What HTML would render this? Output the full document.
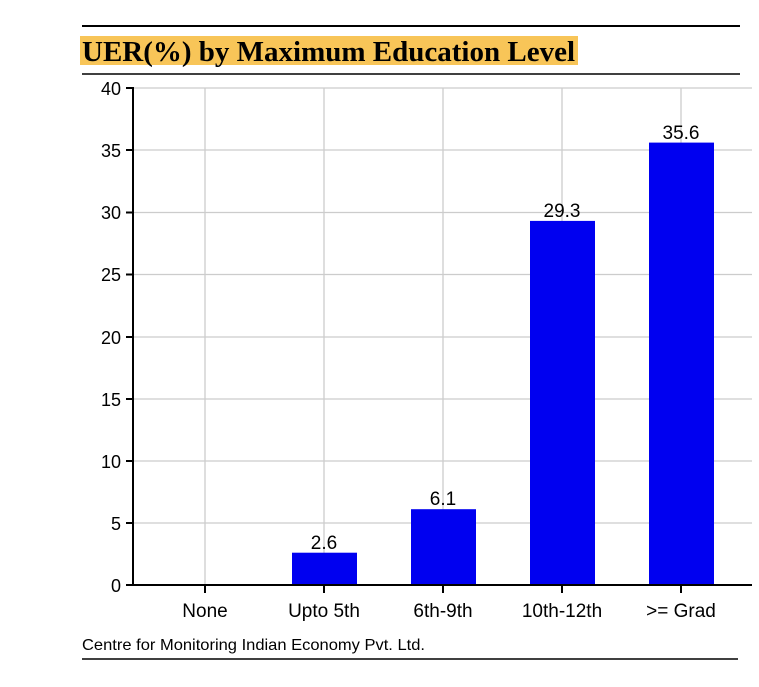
<!DOCTYPE html>
<html><head><style>body{margin:0;background:#fff}svg{display:block}</style></head><body>
<svg width="759" height="687" xmlns="http://www.w3.org/2000/svg" font-family="Liberation Sans, DejaVu Sans, sans-serif">
<line x1="82" y1="26" x2="740" y2="26" stroke="#000" stroke-width="2"/>
<rect x="80" y="36" width="498" height="29" fill="#f8c558"/>
<text x="82" y="61" font-family="Liberation Serif, serif" font-weight="bold" font-size="28" fill="#000" textLength="493" lengthAdjust="spacingAndGlyphs">UER(%) by Maximum Education Level</text>
<line x1="82" y1="74" x2="740" y2="74" stroke="#000" stroke-width="1.5"/>
<g stroke="#ccc" stroke-width="1.3">
<line x1="133" y1="88" x2="752" y2="88"/><line x1="133" y1="150" x2="752" y2="150"/><line x1="133" y1="212.5" x2="752" y2="212.5"/><line x1="133" y1="274.5" x2="752" y2="274.5"/><line x1="133" y1="337" x2="752" y2="337"/><line x1="133" y1="399" x2="752" y2="399"/><line x1="133" y1="461" x2="752" y2="461"/><line x1="133" y1="523" x2="752" y2="523"/>
<line x1="205" y1="88" x2="205" y2="585"/><line x1="324" y1="88" x2="324" y2="585"/><line x1="443" y1="88" x2="443" y2="585"/><line x1="562" y1="88" x2="562" y2="585"/><line x1="681" y1="88" x2="681" y2="585"/>
</g>
<g fill="#0000f0">
<rect x="292" y="552.7" width="65" height="32.3"/>
<rect x="411" y="509.2" width="65" height="75.8"/>
<rect x="530" y="220.9" width="65" height="364.1"/>
<rect x="649" y="142.6" width="65" height="442.4"/>
</g>
<g stroke="#000" stroke-width="2">
<line x1="133" y1="87" x2="133" y2="586"/><line x1="133" y1="585" x2="752" y2="585"/>
<line x1="126" y1="88" x2="133" y2="88"/><line x1="126" y1="150" x2="133" y2="150"/><line x1="126" y1="212.5" x2="133" y2="212.5"/><line x1="126" y1="274.5" x2="133" y2="274.5"/><line x1="126" y1="337" x2="133" y2="337"/><line x1="126" y1="399" x2="133" y2="399"/><line x1="126" y1="461" x2="133" y2="461"/><line x1="126" y1="523" x2="133" y2="523"/><line x1="126" y1="585" x2="133" y2="585"/>
<line x1="205" y1="585" x2="205" y2="593"/><line x1="324" y1="585" x2="324" y2="593"/><line x1="443" y1="585" x2="443" y2="593"/><line x1="562" y1="585" x2="562" y2="593"/><line x1="681" y1="585" x2="681" y2="593"/>
</g>
<g font-size="18" text-anchor="end" fill="#000">
<text x="121" y="95">40</text><text x="121" y="157">35</text><text x="121" y="219">30</text><text x="121" y="281">25</text><text x="121" y="344">20</text><text x="121" y="406">15</text><text x="121" y="468">10</text><text x="121" y="530">5</text><text x="121" y="592">0</text>
</g>
<g font-size="19" text-anchor="middle" fill="#000">
<text x="205" y="617">None</text><text x="324" y="617">Upto 5th</text><text x="443" y="617">6th-9th</text><text x="562" y="617">10th-12th</text><text x="681" y="617">&gt;= Grad</text>
<text x="324" y="549">2.6</text><text x="443" y="505">6.1</text><text x="562" y="217">29.3</text><text x="681" y="139">35.6</text>
</g>
<text x="82" y="650" font-size="16" fill="#000" textLength="343" lengthAdjust="spacingAndGlyphs">Centre for Monitoring Indian Economy Pvt. Ltd.</text>
<line x1="82" y1="659" x2="738" y2="659" stroke="#000" stroke-width="1.5"/>
</svg>
</body></html>
